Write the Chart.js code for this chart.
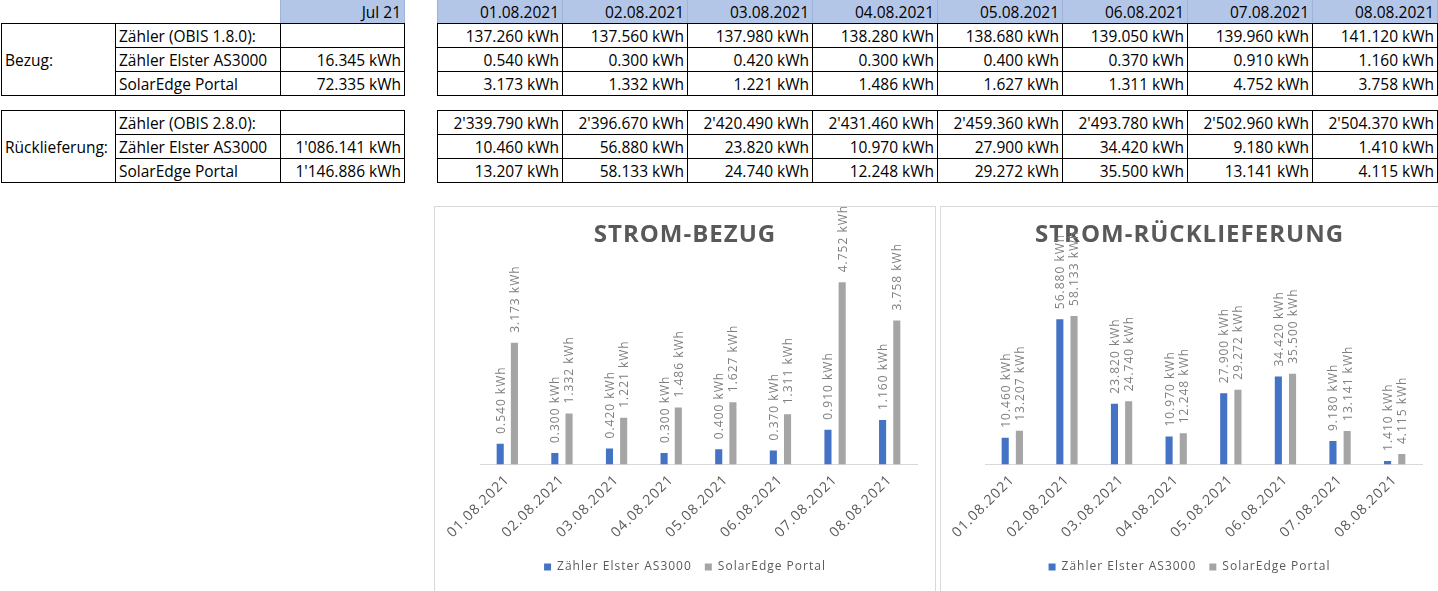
<!DOCTYPE html>
<html>
<head>
<meta charset="utf-8">
<script src="https://cdn.jsdelivr.net/npm/chart.js@4.4.1/dist/chart.umd.min.js"></script>
<style>
  html, body { margin: 0; padding: 0; background: #fff; }
  body { width: 1438px; height: 591px; position: relative; overflow: hidden; font-family: "Open Sans", sans-serif; font-size: 15.5px; color: #000; }
  table { position: absolute; border-collapse: collapse; table-layout: fixed; }
  td { height: 23px; padding: 0 3px; border: 1px solid #000; white-space: nowrap; overflow: hidden; line-height: 22px; }
  td.num { text-align: right; }
  td.none { border: none; }
  td.head { background: #B4C6E7; text-align: right; border: 1px solid #9DB3DA; border-bottom: 1px solid #000; }
  .box { position: absolute; border: 1px solid #D9D9D9; box-sizing: border-box; background: #fff; }
  .box canvas { display: block; }
</style>
</head>
<body>
<table id="leftTop" style="left:1px; top:-1px;"></table>
<table id="leftBottom" style="left:1px; top:110px;"></table>
<table id="rightTop" style="left:437px; top:-1px;"></table>
<table id="rightBottom" style="left:437px; top:110px;"></table>

<div class="box" style="left:434px; top:206px; width:502px; height:386px;">
  <canvas id="chartBezug" width="500" height="384"></canvas>
</div>
<div class="box" style="left:940px; top:206px; width:499px; height:386px;">
  <canvas id="chartRueck" width="497" height="384"></canvas>
</div>

<script>
// daily values
const dates = ['01.08.2021', '02.08.2021', '03.08.2021', '04.08.2021', '05.08.2021', '06.08.2021', '07.08.2021', '08.08.2021'];
const bezugObis = [137.260, 137.560, 137.980, 138.280, 138.680, 139.050, 139.960, 141.120];
const bezugElster = [0.540, 0.300, 0.420, 0.300, 0.400, 0.370, 0.910, 1.160];
const bezugSolar = [3.173, 1.332, 1.221, 1.486, 1.627, 1.311, 4.752, 3.758];
const rueckObis = [2339.790, 2396.670, 2420.490, 2431.460, 2459.360, 2493.780, 2502.960, 2504.370];
const rueckElster = [10.460, 56.880, 23.820, 10.970, 27.900, 34.420, 9.180, 1.410];
const rueckSolar = [13.207, 58.133, 24.740, 12.248, 29.272, 35.500, 13.141, 4.115];

// month summary
const monthLabel = 'Jul 21';
const monthBezug = [null, 16.345, 72.335];
const monthRueck = [null, 1086.141, 1146.886];

const rowNamesBezug = ['Zähler (OBIS 1.8.0):', 'Zähler Elster AS3000', 'SolarEdge Portal'];
const rowNamesRueck = ['Zähler (OBIS 2.8.0):', 'Zähler Elster AS3000', 'SolarEdge Portal'];
const seriesNames = ['Zähler Elster AS3000', 'SolarEdge Portal'];

function fmt(v) {
  if (v === null) return '';
  const parts = v.toFixed(3).split('.');
  parts[0] = parts[0].replace(/\B(?=(\d{3})+(?!\d))/g, "'");
  return parts[0] + '.' + parts[1] + ' kWh';
}

// left tables
function buildLeft(id, group, names, values, withHead) {
  const t = document.getElementById(id);
  let html = '<colgroup><col style="width:114px"><col style="width:165px"><col style="width:124px"></colgroup>';
  if (withHead) {
    html += '<tr><td class="none"></td><td class="none"></td><td class="head">' + monthLabel + '</td></tr>';
  }
  names.forEach((n, i) => {
    html += '<tr>';
    if (i === 0) html += '<td rowspan="3">' + group + '</td>';
    html += '<td>' + n + '</td><td class="num">' + fmt(values[i]) + '</td></tr>';
  });
  t.innerHTML = html;
}
buildLeft('leftTop', 'Bezug:', rowNamesBezug, monthBezug, true);
buildLeft('leftBottom', 'Rücklieferung:', rowNamesRueck, monthRueck, false);

// right tables
function buildRight(id, rows, withHead) {
  const t = document.getElementById(id);
  let html = '<colgroup>' + dates.map(() => '<col style="width:125px">').join('') + '</colgroup>';
  if (withHead) html += '<tr>' + dates.map(d => '<td class="head">' + d + '</td>').join('') + '</tr>';
  rows.forEach(r => {
    html += '<tr>' + r.map(v => '<td class="num">' + fmt(v) + '</td>').join('') + '</tr>';
  });
  t.innerHTML = html;
}
buildRight('rightTop', [bezugObis, bezugElster, bezugSolar], true);
buildRight('rightBottom', [rueckObis, rueckElster, rueckSolar], false);

// Excel-like wide text: same spacing while measuring and drawing
const spacing = {
  id: 'spacing',
  beforeLayout(chart) { chart.ctx.letterSpacing = '1px'; },
  beforeDraw(chart) { chart.ctx.letterSpacing = '1px'; },
  afterDraw(chart) { chart.ctx.letterSpacing = '0px'; }
};

// rotated value labels above the bars
const valueLabels = {
  id: 'valueLabels',
  afterDatasetsDraw(chart) {
    const ctx = chart.ctx;
    ctx.save();
    ctx.font = '12px "Open Sans"';
    ctx.fillStyle = '#7F7F7F';
    ctx.textAlign = 'left';
    ctx.textBaseline = 'middle';
    chart.data.datasets.forEach((ds, i) => {
      chart.getDatasetMeta(i).data.forEach((bar, j) => {
        ctx.save();
        ctx.translate(bar.x + 1, bar.y - 10);
        ctx.rotate(-Math.PI / 2);
        ctx.fillText(fmt(ds.data[j]), 0, 0);
        ctx.restore();
      });
    });
    ctx.restore();
  }
};

function makeChart(id, title, first, second, yMax, side, yWidth) {
  return new Chart(document.getElementById(id), {
    type: 'bar',
    data: {
      labels: dates,
      datasets: [
        { label: seriesNames[0], data: first, backgroundColor: '#4472C4', categoryPercentage: 0.52, barPercentage: 0.5 },
        { label: seriesNames[1], data: second, backgroundColor: '#A5A5A5', categoryPercentage: 0.52, barPercentage: 0.5 }
      ]
    },
    options: {
      responsive: false,
      animation: false,
      layout: { padding: { left: side, right: side, top: 0, bottom: 8 } },
      scales: {
        x: {
          grid: { display: false, drawTicks: false },
          border: { color: '#D9D9D9' },
          ticks: { color: '#595959', font: { family: 'Open Sans', size: 14 }, maxRotation: 45, minRotation: 45, padding: 7 }
        },
        y: {
          display: true, min: 0, max: yMax,
          grid: { display: false, drawTicks: false },
          border: { display: false },
          ticks: { display: false },
          afterFit(scale) { scale.width = yWidth; }
        }
      },
      plugins: {
        title: {
          display: true, text: title, color: '#595959',
          font: { family: 'Open Sans', size: 24, weight: 'bold' },
          padding: { top: 14, bottom: 23 }
        },
        legend: {
          position: 'bottom',
          labels: { boxWidth: 7, boxHeight: 7, color: '#595959', font: { family: 'Open Sans', size: 12 }, padding: 13 }
        },
        tooltip: { enabled: false }
      }
    },
    plugins: [spacing, valueLabels]
  });
}

makeChart('chartBezug', 'STROM-BEZUG', bezugElster, bezugSolar, 5, 18, 27);
makeChart('chartRueck', 'STROM-RÜCKLIEFERUNG', rueckElster, rueckSolar, 75, 16, 28);
</script>
</body>
</html>
